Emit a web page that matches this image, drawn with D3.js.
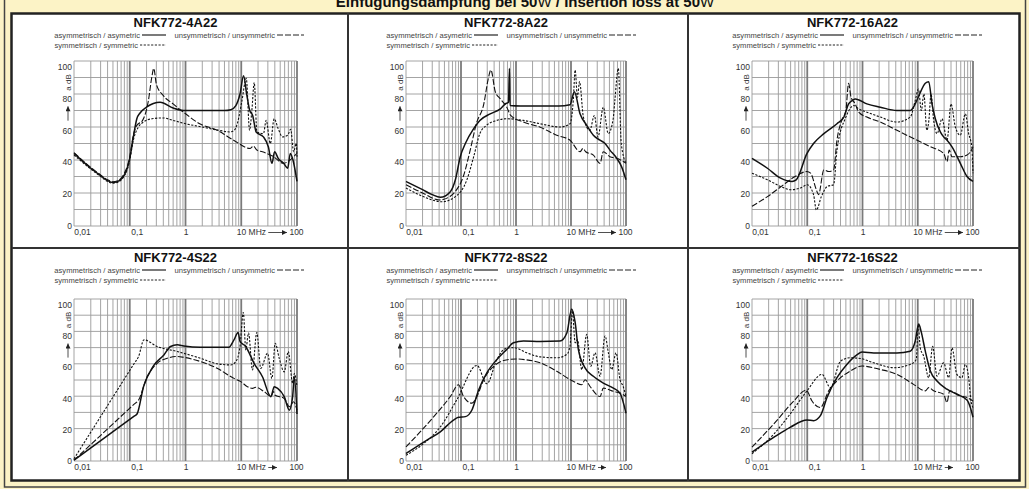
<!DOCTYPE html>
<html>
<head>
<meta charset="utf-8">
<script src="https://cdn.jsdelivr.net/npm/d3@7"></script>
<style>
  body { margin: 0; background: #fcf3c6; }
  svg { display: block; font-family: "Liberation Sans", Arial, sans-serif; }
</style>
</head>
<body>
<svg width="1029" height="489"></svg>
<script>
// axis ticks and labels
const freqTicks = [0.01, 0.1, 1, 10, 100];
const freqTickLabels = ["0,01", "0,1", "1", "10 MHz", "100"];
const dbTicks = [0, 20, 40, 60, 80, 100];
const panelNames = ["NFK772-4A22", "NFK772-8A22", "NFK772-16A22", "NFK772-4S22", "NFK772-8S22", "NFK772-16S22"];
const legendLabels = ["asymmetrisch / asymetric", "unsymmetrisch / unsymmetric", "symmetrisch / symmetric"];

// [MHz, dB]
const asym4A22 = [[0.01,44],[0.02,35],[0.03,30.5],[0.04,27.5],[0.05,26.3],[0.065,27.5],[0.08,31],[0.09,35],[0.1,41],[0.116,54],[0.134,65],[0.153,68.5],[0.2,72],[0.35,75],[0.6,71.5],[0.92,70],[2,70],[5,70],[6.5,70.5],[8,73],[9.5,80],[11,91],[12.5,80],[14.2,70],[16,67],[18.5,57],[25,54],[30.6,48],[35.5,38],[39.7,45],[46,41],[57.6,38],[68,35],[75.9,44],[84.7,40],[100,27]];
const unsym4A22 = [[0.01,44.5],[0.02,35.5],[0.03,31],[0.04,28],[0.05,26.8],[0.065,28],[0.08,32],[0.09,36],[0.1,42],[0.116,55],[0.134,61],[0.17,64],[0.216,76],[0.248,90],[0.27,95.5],[0.3,86],[0.4,79],[0.6,74],[0.92,69],[1.8,62],[3.7,58],[7.3,52],[14.5,47],[16.5,48.5],[19,46],[24,45],[38,42],[57,38],[75,40],[87,42],[100,44]];
const sym4A22 = [[0.01,43],[0.02,34.5],[0.03,30],[0.04,27],[0.05,26],[0.065,27],[0.08,30.5],[0.09,34],[0.1,40],[0.116,52],[0.143,60],[0.176,63],[0.25,65],[0.4,65.5],[0.6,64],[1,62],[2,60],[4,58],[6.3,57],[7.5,58],[8.5,62],[10.3,76],[12.3,89.5],[14.1,58],[15.5,70],[17.1,87],[19.1,57],[25,56],[28,64],[33.2,50],[39,65],[46,59],[55,54],[68,55],[77,58.6],[87,45],[97,50],[100,42]];

const asym8A22 = [[0.01,27],[0.02,22],[0.03,19],[0.042,17.4],[0.064,20.8],[0.079,28],[0.097,42],[0.12,50],[0.17,59],[0.22,64],[0.34,68],[0.52,71],[0.64,74],[0.73,75],[0.76,95.5],[0.78,73],[1.2,72.7],[3,72.7],[6,72.7],[9.6,73.5],[11.5,81.4],[14.6,68],[19.3,61],[25.5,55],[33.7,52],[41.6,50],[51,46],[68,41],[83,36],[100,28]];
const unsym8A22 = [[0.01,25],[0.02,20],[0.04,15.8],[0.064,18],[0.079,21],[0.11,30],[0.147,46],[0.19,62],[0.26,74],[0.31,88.5],[0.35,94.5],[0.42,81.4],[0.52,77],[0.68,72],[0.8,67],[1.36,63],[2.7,60],[5.5,55],[9.6,52],[14.6,45],[16.5,47],[18.5,45],[25.5,43],[33.7,38],[38.6,45],[51,42],[68,41],[100,38]];
const sym8A22 = [[0.01,23],[0.02,18],[0.045,14.7],[0.079,17.8],[0.128,28],[0.17,42],[0.22,56],[0.29,61],[0.45,64],[0.68,65],[1.36,64],[2.7,62],[6.4,60],[9.6,62],[11,76],[11.9,94.5],[13.1,78],[14.3,87.5],[16.8,66],[22,58],[26.6,67],[31,54],[38.6,72],[47.6,56],[58.5,65],[62.7,76],[72.5,95.5],[82,50],[100,38]];

const asym16A22 = [[0.01,41],[0.019,35],[0.033,29],[0.053,27],[0.063,28],[0.099,44],[0.13,50],[0.2,56],[0.345,62],[0.46,66],[0.56,74],[0.65,76],[0.74,77],[1.2,74],[2.1,72],[4.2,70],[7.3,70],[9,74],[10.8,80],[13.7,86.5],[15.8,87.5],[18.1,74],[20.8,65],[25.6,57],[29.4,54],[33.9,52],[41.7,48],[59,38],[77.8,30],[100,27]];
const unsym16A22 = [[0.01,12],[0.019,17.8],[0.034,24],[0.06,30],[0.099,33],[0.115,32],[0.146,22],[0.16,19],[0.2,34],[0.245,33],[0.3,34],[0.345,52],[0.42,64],[0.5,70],[0.56,86.5],[0.62,78],[0.74,74],[0.85,69],[1.2,66],[2.1,63],[4.2,58],[8.4,53],[17,48],[29.4,44],[33.9,39],[37,46],[41.7,42],[59,42],[78,43],[97,47],[100,48]];
const sym16A22 = [[0.01,32],[0.019,28],[0.033,24],[0.05,22],[0.075,23],[0.1,25],[0.13,19],[0.146,9.7],[0.18,17.8],[0.23,24],[0.3,25],[0.345,46],[0.5,66],[0.7,73],[0.85,71],[1.2,69],[2.1,66],[4.2,63],[7.3,66],[9,76],[10.3,83],[11.6,70],[12.9,80],[14.6,58],[15.9,64],[17.4,80],[19.4,64],[22.3,56],[27.5,65],[33.9,52],[40,74],[47.9,60],[59,55],[72.6,68],[83.5,56],[95,48],[100,32]];

const asym4S22 = [[0.01,0.5],[0.04,15.7],[0.12,27.7],[0.135,29],[0.177,46],[0.27,59],[0.41,65.5],[0.54,70.7],[0.71,71.7],[0.93,71],[1.86,70.2],[6,70.2],[7.4,74.8],[8.8,79.3],[9.5,73.8],[12,70.7],[17,60.3],[24,52],[34,39.7],[39,45.9],[45,44.8],[59,39.7],[72.8,31.4],[83.5,39.7],[89.5,52],[100,29]];
const unsym4S22 = [[0.01,0.5],[0.04,19.8],[0.12,35.1],[0.144,37.6],[0.2,51],[0.31,60.3],[0.47,63.4],[0.71,64.5],[0.93,64],[1.86,61.4],[3.7,57.2],[7.4,51],[9.8,49],[12.9,45.9],[15.9,44.8],[18.2,45.5],[25.8,42.8],[34,40],[38,42.8],[40,40.7],[59,38.6],[72.8,33.5],[87,36.6],[100,31.4]];
const sym4S22 = [[0.01,1.4],[0.038,33],[0.12,60.2],[0.144,64.5],[0.18,74.8],[0.31,70.7],[0.71,67.6],[1.86,63.4],[3.7,60],[6.5,59.3],[8,61.4],[9.5,70.7],[10.9,91.7],[12.05,68.6],[13.5,79],[15.9,56.2],[19,79.3],[22.4,57.2],[29.6,66.5],[35.5,51],[40.7,72.7],[48,63.4],[59,55],[69.8,67.6],[83.5,48],[89.5,54],[100,45.9]];

const asym8S22 = [[0.01,4.6],[0.024,12.9],[0.042,18],[0.073,25.3],[0.09,27],[0.12,27.4],[0.158,31.5],[0.21,44],[0.295,54.4],[0.45,62.7],[0.68,68.9],[0.9,73],[1.37,74],[2.75,73.7],[6.3,74],[8.4,79],[10.3,93.8],[11.9,85.5],[13.6,68.9],[18,57.5],[25.5,52.3],[38.7,48.1],[59,45],[77.8,41.9],[100,29.5]];
const unsym8S22 = [[0.01,8.7],[0.032,27.4],[0.064,39.8],[0.09,47.1],[0.111,39.8],[0.158,35.7],[0.195,39.8],[0.257,50],[0.45,60],[0.7,62.5],[1,63],[1.5,62.5],[2.75,60.6],[5.5,55.4],[11,49.2],[15.7,47.1],[18,50.2],[22.2,46],[33.7,39.8],[38.7,45],[59,43],[77.8,41.9],[100,39.8]];
const sym8S22 = [[0.01,3.5],[0.021,10.8],[0.042,21],[0.084,37.8],[0.195,59],[0.295,47.7],[0.45,62.7],[0.635,69.3],[0.9,70],[1.57,66.8],[2.75,64.3],[5.5,63.7],[8.4,65.8],[9.6,71],[10.6,92.7],[11.9,73],[13.1,75],[15.7,56.4],[19.3,78.2],[22.8,58.5],[27.4,66.8],[33.7,52.3],[41.6,77.2],[47.8,66.8],[55,56.4],[66,66.8],[77.8,50.2],[89,46],[100,39.8]];

const asym16S22 = [[0.01,5.5],[0.025,14.7],[0.049,20.8],[0.099,25.3],[0.13,24.9],[0.173,28],[0.228,39.2],[0.345,51.4],[0.52,59.6],[0.8,65.7],[0.98,67.3],[1.6,66.7],[4.2,66.7],[7.3,67.8],[9,73.9],[10.4,84.5],[11.5,80],[13.7,67.8],[16.9,55.5],[22.3,49.4],[33.8,44.3],[51,41.2],[77.8,37.6],[89.5,33],[100,27]];
const unsym16S22 = [[0.01,8.6],[0.028,24.9],[0.057,37],[0.096,43.7],[0.122,37],[0.173,33],[0.244,43.3],[0.345,49.4],[0.6,55.5],[0.98,58.6],[2.1,56.5],[4.2,53.5],[8.4,47.3],[13.7,43.3],[15.8,45.3],[19.4,43.3],[29.4,41.2],[33.8,36.1],[37.8,43.3],[59,40.2],[77.8,39.2],[100,37]];
const sym16S22 = [[0.01,4.5],[0.025,16.7],[0.049,29],[0.099,43.3],[0.185,53.5],[0.262,45.3],[0.4,61.6],[0.6,63.7],[0.91,63.3],[1.6,60.6],[3.7,57.6],[7.3,59.6],[9.4,62.7],[10.2,84],[11.1,69.8],[12.8,64.7],[15.8,51.4],[18.6,70.8],[22.3,52.4],[29.4,60.6],[36.3,51.4],[41.7,69.8],[51,53.5],[63,51.4],[72.6,59.6],[83.5,51.4],[92,37],[100,33]];

const panelSeries = [
  [asym4A22, unsym4A22, sym4A22],
  [asym8A22, unsym8A22, sym8A22],
  [asym16A22, unsym16A22, sym16A22],
  [asym4S22, unsym4S22, sym4S22],
  [asym8S22, unsym8S22, sym8S22],
  [asym16S22, unsym16S22, sym16S22]
];

// layout
const cols = [{x0: 74, x1: 297}, {x0: 406, x1: 626}, {x0: 752, x1: 973}];
const rows = [{y0: 61, y1: 226, title: 27, arrowGap: 10}, {y0: 299, y1: 461, title: 262, arrowGap: 20}];
const styles = [
  {w: 1.5, dash: null},
  {w: 1.1, dash: "6,2"},
  {w: 1.1, dash: "2.2,1.5"}
];

const svg = d3.select("svg");

svg.append("defs").append("marker")
  .attr("id", "arr")
  .attr("viewBox", "0 0 10 10")
  .attr("refX", 10).attr("refY", 5)
  .attr("markerWidth", 6).attr("markerHeight", 5)
  .attr("markerUnits", "userSpaceOnUse")
  .attr("orient", "auto")
  .append("path").attr("d", "M0,0L10,5L0,10z").attr("fill", "#222");

svg.append("rect").attr("width", 1029).attr("height", 489).attr("fill", "#fcf3c6");
svg.append("rect")
  .attr("x", 4.5).attr("y", -10).attr("width", 1021).attr("height", 497)
  .attr("fill", "none").attr("stroke", "#444").attr("stroke-width", 1.5);

// main title, the Ω shows as a plain W (top is cut off in the original)
let title = svg.append("text")
  .attr("x", 525).attr("y", 7)
  .attr("text-anchor", "middle")
  .attr("font-size", 15).attr("font-weight", "bold").attr("fill", "#111");
title.append("tspan").text("Einfügungsdämpfung bei 50");
title.append("tspan").attr("font-weight", "normal").text("W");
title.append("tspan").text(" / Insertion loss at 50");
title.append("tspan").attr("font-weight", "normal").text("W");

svg.append("rect")
  .attr("x", 11.5).attr("y", 13.5).attr("width", 1008).attr("height", 467)
  .attr("fill", "#fff").attr("stroke", "#222").attr("stroke-width", 2.5);

// panel dividers
[348, 688].forEach(function(xd) {
  svg.append("line").attr("x1", xd).attr("x2", xd).attr("y1", 13).attr("y2", 481)
    .attr("stroke", "#333").attr("stroke-width", 2);
});
svg.append("line").attr("x1", 12).attr("x2", 1020).attr("y1", 248).attr("y2", 248)
  .attr("stroke", "#333").attr("stroke-width", 2);

// log grid positions
let minorFreqs = [];
[0.01, 0.1, 1, 10].forEach(function(dec) {
  for (let k = 2; k <= 9; k++) minorFreqs.push(dec * k);
});

panelNames.forEach(function(name, i) {
  let c = cols[i % 3];
  let r = rows[Math.floor(i / 3)];

  let x = d3.scaleLog().domain([0.01, 100]).range([c.x0, c.x1]);
  let y = d3.scaleLinear().domain([0, 100]).range([r.y1, r.y0]);
  // the printed dB labels sit a little below their grid lines
  let yLab = d3.scaleLinear().domain([0, 100]).range([r.y1, y(96.7)]);

  let g = svg.append("g").attr("class", "panel");

  // grid
  g.append("g").selectAll("line")
    .data(d3.range(0, 101, 10))
    .enter().append("line")
    .attr("x1", c.x0).attr("x2", c.x1)
    .attr("y1", (d) => y(d)).attr("y2", (d) => y(d))
    .attr("stroke", "#9a9a9a").attr("stroke-width", 0.9);

  g.append("g").selectAll("line")
    .data(minorFreqs)
    .enter().append("line")
    .attr("x1", (d) => x(d)).attr("x2", (d) => x(d))
    .attr("y1", r.y0).attr("y2", r.y1)
    .attr("stroke", "#9a9a9a").attr("stroke-width", 0.9);

  g.append("g").selectAll("line")
    .data(freqTicks)
    .enter().append("line")
    .attr("x1", (d) => x(d)).attr("x2", (d) => x(d))
    .attr("y1", r.y0).attr("y2", r.y1)
    .attr("stroke", (d) => d === 0.01 ? "#9a9a9a" : "#7a7a7a")
    .attr("stroke-width", (d) => d === 0.01 ? 0.9 : 1.8);

  // y axis labels
  let yAxis = g.append("g")
    .attr("transform", "translate(" + c.x0 + ",0)")
    .call(d3.axisLeft(yLab).tickValues(dbTicks).tickSize(0).tickPadding(2));
  yAxis.select(".domain").remove();
  yAxis.selectAll("text").attr("font-size", 8.5).attr("fill", "#333")
    .attr("font-family", "'Liberation Sans', Arial, sans-serif");

  // x axis labels
  let xAxis = g.append("g")
    .attr("transform", "translate(0," + r.y1 + ")")
    .call(d3.axisBottom(x).tickValues(freqTicks)
      .tickFormat((d, k) => freqTickLabels[k]).tickSize(0).tickPadding(3));
  xAxis.select(".domain").remove();
  xAxis.selectAll("text").attr("font-size", 8.5).attr("fill", "#333")
    .attr("font-family", "'Liberation Sans', Arial, sans-serif")
    .attr("dx", (d, k) => [8, 7, 0, -5, -1][k])
    .attr("text-anchor", (d, k) => k === 3 ? "start" : "middle");

  g.append("line")
    .attr("x1", x(10) + 27).attr("x2", x(100) - r.arrowGap)
    .attr("y1", r.y1 + 6.5).attr("y2", r.y1 + 6.5)
    .attr("stroke", "#222").attr("stroke-width", 0.8)
    .attr("marker-end", "url(#arr)");

  // y axis name and arrow
  g.append("text")
    .attr("transform", "translate(" + (c.x0 - 6) + "," + yLab(90) + ") rotate(-90)")
    .attr("text-anchor", "middle").attr("dy", "0.35em")
    .attr("font-size", 8).attr("fill", "#333")
    .text("a dB");
  g.append("line")
    .attr("x1", c.x0 - 6).attr("x2", c.x0 - 6)
    .attr("y1", yLab(66)).attr("y2", yLab(75))
    .attr("stroke", "#222").attr("stroke-width", 0.8)
    .attr("marker-end", "url(#arr)");

  // panel title
  g.append("text")
    .attr("x", (c.x0 + c.x1) / 2 - 10).attr("y", r.title)
    .attr("text-anchor", "middle")
    .attr("font-size", 13).attr("font-weight", "bold").attr("fill", "#111")
    .text(name);

  // legend: text ends just before its line sample
  let ly1 = r.title + 8;
  let ly2 = r.title + 18;
  let legendRows = [
    {ty: ly1, lx1: c.x0 + 68, lx2: c.x0 + 92},
    {ty: ly1, lx1: c.x0 + 203, lx2: c.x0 + 230},
    {ty: ly2, lx1: c.x0 + 66, lx2: c.x0 + 92}
  ];
  legendRows.forEach(function(lr, k) {
    g.append("text")
      .attr("x", lr.lx1 - 2).attr("y", lr.ty).attr("dy", "0.35em")
      .attr("text-anchor", "end")
      .attr("font-size", 7.6).attr("fill", "#444")
      .text(legendLabels[k]);
    g.append("line")
      .attr("x1", lr.lx1).attr("x2", lr.lx2)
      .attr("y1", lr.ty).attr("y2", lr.ty)
      .attr("stroke", "#222").attr("stroke-width", k === 0 ? 1.2 : 1)
      .attr("stroke-dasharray", styles[k].dash);
  });

  // curves
  let line = d3.line()
    .x((d) => x(d[0]))
    .y((d) => y(d[1]))
    .curve(d3.curveMonotoneX);

  g.append("g").selectAll("path")
    .data(panelSeries[i])
    .enter().append("path")
    .attr("d", line)
    .attr("fill", "none")
    .attr("stroke", "#111")
    .attr("stroke-width", (d, k) => styles[k].w)
    .attr("stroke-dasharray", (d, k) => styles[k].dash)
    .attr("stroke-linejoin", "round");
});
</script>
</body>
</html>
